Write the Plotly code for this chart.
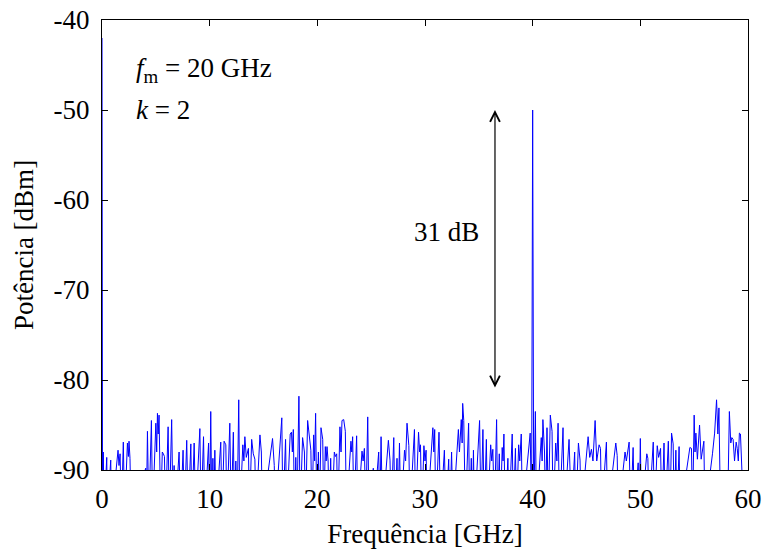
import plotly.graph_objects as go

# Spectrum samples (frequency in GHz, power in dBm).
# Points at -95 dBm lie below the visible floor (-90 dBm) and are clipped.
freq_ghz = [
    0.0, 0.05, 0.12, 0.2, 0.44, 0.5, 0.81, 0.9, 1.49, 1.58, 1.68, 1.8, 1.98, 2.1, 2.36, 2.45, 2.51, 2.6, 2.7,
    4.06, 4.12, 4.22, 4.35, 4.59, 4.7, 4.93, 5.0, 5.08, 5.15, 5.22, 5.3, 5.45, 5.6, 5.7, 5.8, 5.9,
    6.14, 6.25, 6.47, 6.6, 6.7, 6.8, 7.16, 7.3, 7.53, 7.65, 7.87, 8.0, 8.25, 8.35, 8.56, 8.7,
    9.09, 9.2, 9.43, 9.55, 9.9, 10.0, 10.1, 10.2, 10.3, 10.38, 10.48, 10.6, 11.03, 11.15, 11.34, 11.5, 11.6,
    11.87, 12.0, 12.2, 12.3, 12.43, 12.55, 12.7, 12.8, 13.08, 13.18, 13.27, 13.4, 13.6, 13.7, 13.9, 14.05,
    14.2, 14.3, 14.67, 14.8, 14.9, 15.68, 15.84, 16.0, 16.1, 16.7, 16.8, 17.05, 17.15, 17.48, 17.6, 17.68,
    17.77, 17.88, 18.0, 18.1, 18.29, 18.4, 18.63, 18.8, 18.9, 19.1, 19.3, 19.4, 19.5, 19.66, 19.75, 19.84,
    19.95, 20.1, 20.2, 20.34, 20.5, 20.6, 20.74, 20.82, 20.9, 21.0, 21.1, 21.24, 21.35, 21.58, 21.68, 21.8,
    21.9, 22.1, 22.2, 22.29, 22.45, 22.6, 22.7, 23.12, 23.2, 23.28, 23.4, 23.65, 23.75, 24.15, 24.25, 24.37,
    24.5, 24.68, 24.8, 25.2, 25.25, 25.7, 25.8, 25.92, 26.05, 26.6, 26.75, 26.85, 27.1, 27.2, 27.4, 27.5,
    27.63, 27.75, 28.1, 28.2, 28.33, 28.5, 28.6, 29.02, 29.12, 29.4, 29.5, 29.58, 29.7, 29.9, 30.0, 30.1,
    30.2, 30.73, 30.82, 30.9, 31.0, 31.3, 31.45, 31.8, 31.95, 32.2, 32.3, 32.47, 32.6, 33.1, 33.2, 33.37,
    33.45, 33.5, 33.6, 33.75, 34.05, 34.15, 34.3, 34.4, 34.5, 34.6, 35.07, 35.2, 35.38, 35.5, 35.7, 35.8,
    36.1, 36.2, 36.3, 36.45, 36.65, 36.75, 36.9, 37.0, 37.17, 37.25, 37.33, 37.45, 37.7, 37.8, 38.1, 38.2,
    38.4, 38.5, 38.7, 38.8, 38.94, 39.05, 39.77, 39.9, 40.0, 40.1, 40.25, 40.35, 40.8, 40.88, 40.95, 41.1,
    41.2, 41.33, 41.45, 41.64, 41.8, 41.9, 42.14, 42.25, 42.36, 42.5, 42.82, 42.95, 43.38, 43.5, 43.6, 43.9,
    44.0, 44.25, 44.4, 44.5, 45.0, 45.15, 45.3, 45.46, 45.6, 45.8, 45.95, 46.17, 46.3, 46.4, 46.85, 46.95,
    47.72, 47.85, 47.95, 48.58, 48.7, 48.96, 49.1, 49.33, 49.45, 49.8, 49.9, 50.0, 50.1, 50.6, 50.7, 50.8,
    51.2, 51.3, 51.57, 51.7, 51.88, 52.0, 52.2, 52.3, 52.6, 52.75, 52.9, 53.05, 53.15, 53.3, 53.4, 53.6,
    53.7, 54.6, 54.75, 54.85, 55.0, 55.08, 55.16, 55.3, 55.5, 55.65, 55.9, 56.0, 56.7, 56.9, 57.08, 57.2,
    57.3, 57.45, 58.1, 58.27, 58.4, 58.5, 58.62, 58.75, 58.9, 59.0, 59.1, 59.2, 59.3, 59.45, 59.6, 60.0,
]
power_dbm = [
    -42.0, -95, -88.0, -95, -88.6, -95, -88.9, -95, -87.8, -89.5, -88.2, -95, -86.9, -95, -87.0, -88.5, -86.8, -88.7, -95,
    -89.8, -95, -85.7, -95, -84.5, -95, -88.0, -84.8, -88.0, -83.7, -86.0, -83.9, -95, -88.0, -88.2, -88.5, -95,
    -85.2, -95, -84.4, -95, -89.5, -95, -88.0, -95, -87.8, -95, -86.7, -95, -87.1, -95, -87.0, -95,
    -85.4, -95, -86.3, -95, -87.0, -95, -83.5, -95, -88.7, -95, -87.8, -95, -86.9, -95, -86.8, -87.2, -95,
    -84.8, -95, -85.8, -95, -89.0, -95, -82.2, -95, -87.2, -89.0, -86.3, -88.6, -87.6, -95, -86.6, -88.2,
    -88.8, -95, -86.1, -88.0, -95, -87.6, -86.5, -89.5, -95, -84.2, -95, -86.6, -95, -86.0, -85.8, -88.0,
    -85.5, -95, -88.6, -95, -81.8, -95, -86.4, -88.0, -95, -84.5, -87.0, -87.8, -95, -86.1, -89.0, -83.7,
    -95, -88.0, -95, -85.3, -86.6, -95, -87.4, -89.0, -87.4, -89.0, -95, -88.7, -95, -88.0, -88.5, -88.2,
    -95, -85.2, -88.0, -84.5, -84.4, -85.7, -95, -86.8, -88.0, -86.3, -95, -86.2, -95, -87.9, -89.0, -87.6,
    -95, -84.1, -95, -89.8, -95, -88.0, -95, -86.3, -95, -86.7, -88.9, -95, -86.4, -95, -88.7, -95,
    -87.0, -95, -87.8, -89.0, -84.8, -87.3, -95, -85.5, -95, -85.8, -88.0, -87.2, -95, -87.3, -89.0, -87.8,
    -95, -85.3, -88.0, -85.5, -95, -85.8, -95, -87.8, -95, -88.8, -95, -88.0, -95, -85.5, -88.0, -84.4,
    -87.0, -82.6, -84.5, -95, -84.8, -95, -88.7, -95, -87.8, -95, -84.5, -95, -85.5, -95, -86.6, -95,
    -87.2, -89.0, -87.7, -95, -84.4, -95, -88.2, -95, -87.5, -89.0, -86.0, -95, -88.7, -95, -86.0, -95,
    -87.6, -95, -87.2, -89.0, -86.0, -95, -85.9, -95, -50.0, -95, -83.5, -95, -86.4, -89.0, -84.4, -88.0,
    -95, -85.3, -95, -83.9, -85.7, -95, -87.0, -89.0, -84.8, -95, -85.3, -95, -86.6, -89.5, -95, -88.0,
    -95, -87.0, -88.9, -95, -88.2, -86.3, -88.6, -87.7, -89.0, -84.5, -89.0, -87.2, -87.6, -95, -86.9, -95,
    -87.0, -88.4, -95, -88.0, -89.0, -86.9, -95, -87.5, -95, -89.2, -95, -86.5, -95, -88.2, -88.7, -95,
    -86.9, -95, -87.3, -88.6, -87.6, -95, -87.0, -95, -86.8, -95, -85.9, -87.1, -95, -87.8, -95, -87.4,
    -95, -87.5, -87.6, -95, -83.9, -88.0, -85.9, -88.8, -85.0, -88.8, -86.8, -95, -88.2, -85.9, -82.2, -86.0,
    -83.1, -95, -95, -83.5, -87.0, -86.4, -86.6, -89.0, -86.9, -87.6, -89.0, -85.9, -86.0, -89.5, -95, -95,
]

x_ticks = [0, 10, 20, 30, 40, 50, 60]
x_tick_text = ["0", "10", "20", "30", "40", "50", "60"]
y_ticks = [-90, -80, -70, -60, -50, -40]
y_tick_text = ["-90", "-80", "-70", "-60", "-50", "-40"]
x_range = [0, 60]
y_range = [-90, -40]

# Annotation values
fm_label = "<i>f</i><sub>m</sub> = 20 GHz"
k_label = "<i>k</i> = 2"
gap_label = "31 dB"
arrow_x = 36.5
arrow_top = -50
arrow_bottom = -81

FONT = "Liberation Serif, Times New Roman, serif"
FS = 27

fig = go.Figure()
fig.add_trace(go.Scatter(
    x=freq_ghz, y=power_dbm, mode="lines",
    line=dict(color="#0000ff", width=1),
    cliponaxis=True, showlegend=False, hoverinfo="x+y",
))

axis_common = dict(
    showline=True, linecolor="black", linewidth=1.2, mirror="ticks",
    ticks="inside", ticklen=6, tickcolor="black", tickwidth=1,
    showgrid=False, zeroline=False, automargin=False,
    tickfont=dict(family=FONT, size=FS, color="black"),
)

fig.update_layout(
    width=763, height=549,
    margin=dict(l=102, r=15, t=20, b=79),
    paper_bgcolor="white", plot_bgcolor="white",
    font=dict(family=FONT, color="black"),
    xaxis=dict(range=x_range, tickvals=x_ticks, ticktext=x_tick_text, **axis_common,
               ticklabelstandoff=4,
               title=dict(text="Frequência [GHz]", font=dict(family=FONT, size=FS), standoff=16)),
    yaxis=dict(range=y_range, tickvals=y_ticks, ticktext=y_tick_text, **axis_common,
               ticklabelstandoff=6,
               title=dict(text="Potência [dBm]", font=dict(family=FONT, size=FS), standoff=12)),
    annotations=[
        dict(x=3.0, y=-45.6, xref="x", yref="y", text=fm_label, showarrow=False,
             xanchor="left", yanchor="middle", font=dict(family=FONT, size=FS)),
        dict(x=3.0, y=-50.0, xref="x", yref="y", text=k_label, showarrow=False,
             xanchor="left", yanchor="middle", font=dict(family=FONT, size=FS)),
        dict(x=32.0, y=-63.6, xref="x", yref="y", text=gap_label, showarrow=False,
             xanchor="center", yanchor="middle", font=dict(family=FONT, size=FS)),
        dict(x=arrow_x, y=arrow_top, ax=arrow_x, ay=arrow_bottom, xref="x", yref="y",
             axref="x", ayref="y", text="", showarrow=True, arrowside="end+start",
             arrowhead=5, startarrowhead=5, arrowsize=1.6, startarrowsize=1.6,
             arrowwidth=1.2, arrowcolor="black", standoff=0, startstandoff=0),
    ],
)

fig.write_html("out.html", config={"displayModeBar": False},
               post_script="document.body.style.margin='0px';")
